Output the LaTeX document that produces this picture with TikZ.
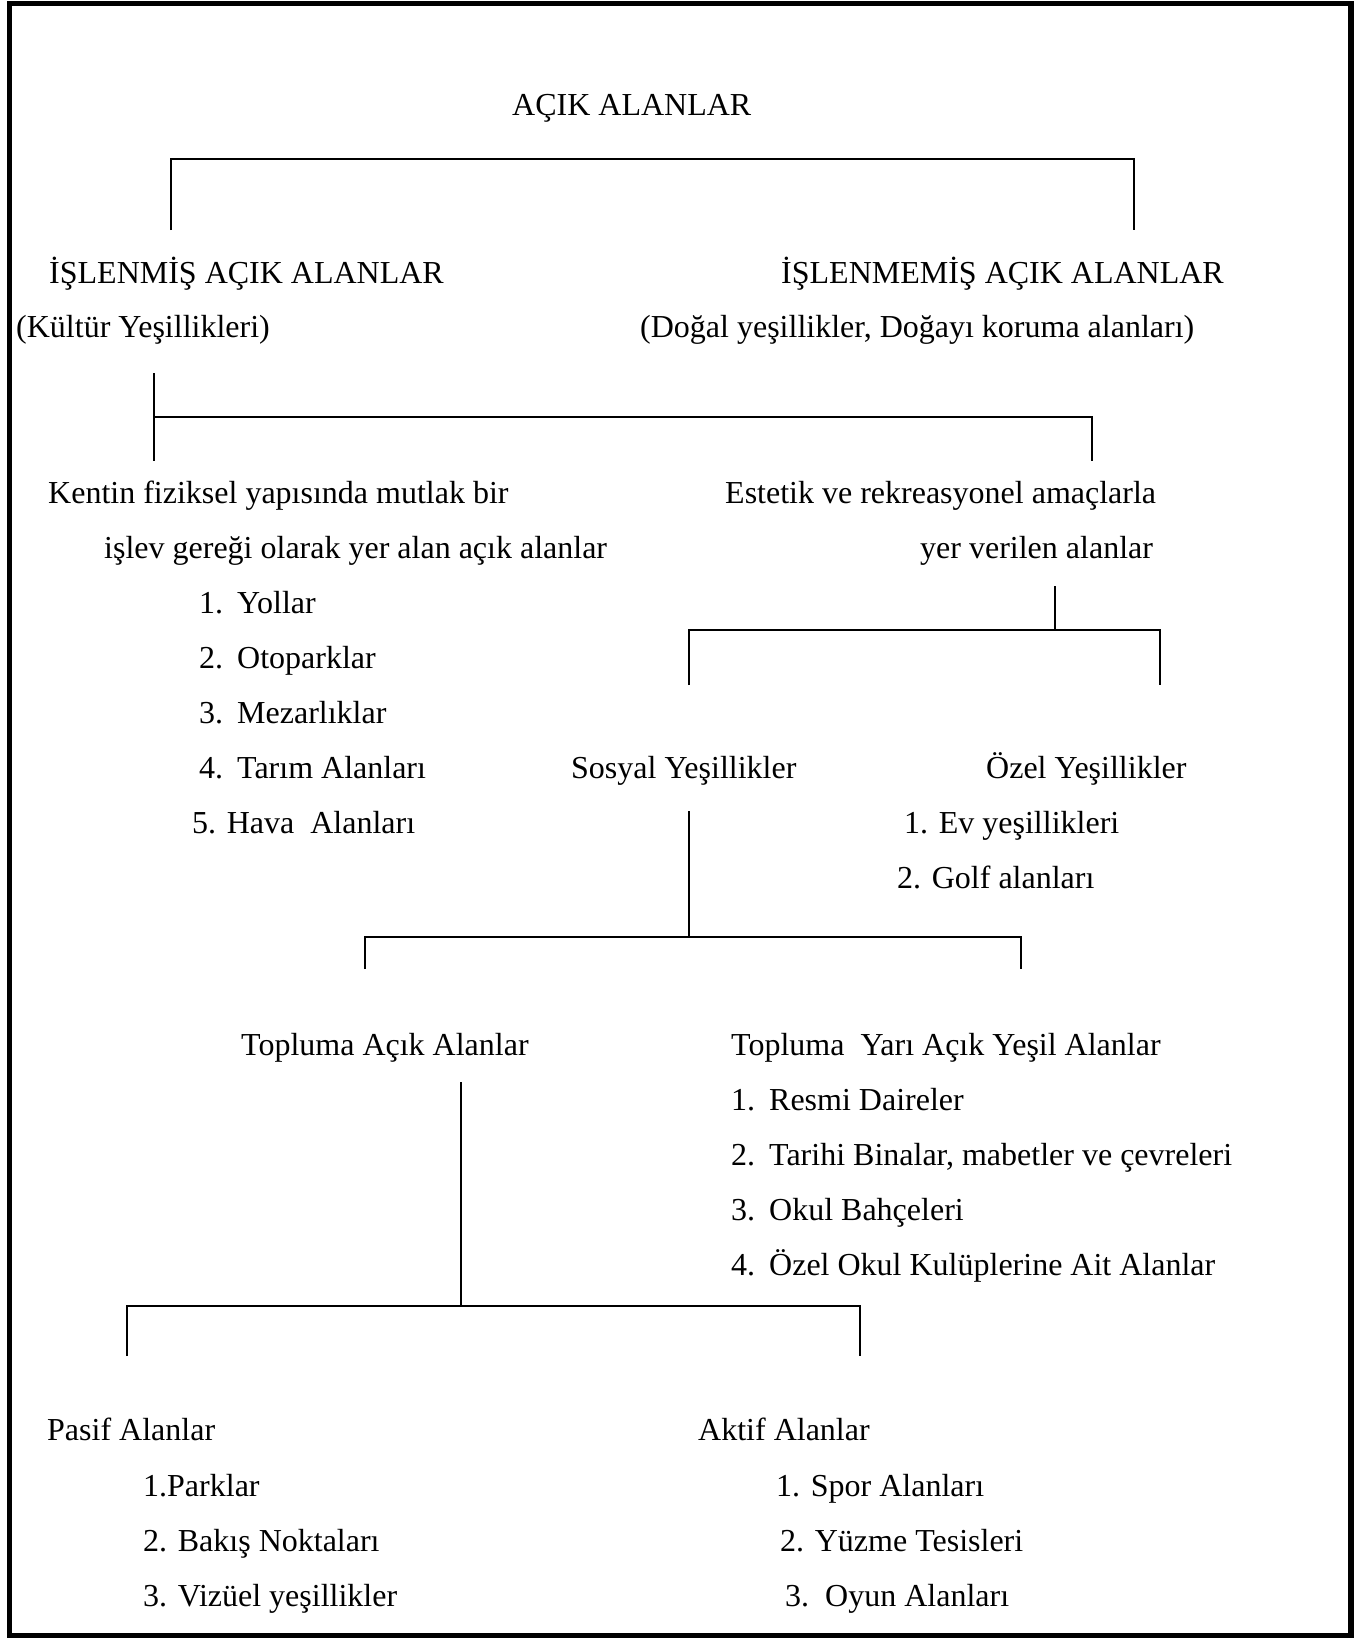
\documentclass[tikz,border=0pt]{standalone}
\usepackage{fontspec}
\setmainfont{Liberation Serif}
\newcommand{\listno}[2]{#1\hspace{14pt}#2}
\begin{document}
\begin{tikzpicture}[x=1pt,y=-1pt,
            txt/.style={anchor=base west,inner sep=0pt,font=\fontsize{32}{38}\selectfont},
            branch/.style={line width=2pt}]
            \useasboundingbox (0,0) rectangle (1357,1638);
            \draw[line width=5.5pt] (9.5,3.5) rectangle (1351,1635.5);
            \node[txt] (acik) at (512,115) {AÇIK ALANLAR};
            \node[txt] (islenmis) at (49,283) {İŞLENMİŞ AÇIK ALANLAR};
            \node[txt] (kultur) at (16,337) {(Kültür Yeşillikleri)};
            \node[txt] (islenmemis) at (781,283) {İŞLENMEMİŞ AÇIK ALANLAR};
            \node[txt] (dogal) at (640,337) {(Doğal yeşillikler, Doğayı koruma alanları)};
            \node[txt] (kentin) at (48,503) {Kentin fiziksel yapısında mutlak bir};
            \node[txt] (islev) at (104,558) {işlev gereği olarak yer alan açık alanlar};
            \node[txt] (yollar) at (199,613) {\listno{1.}{Yollar}};
            \node[txt] (otopark) at (199,668) {\listno{2.}{Otoparklar}};
            \node[txt] (mezar) at (199,723) {\listno{3.}{Mezarlıklar}};
            \node[txt] (tarim) at (199,778) {\listno{4.}{Tarım Alanları}};
            \node[txt] (hava) at (192,833) {5. Hava~~Alanları};
            \node[txt] (estetik) at (725,503) {Estetik ve rekreasyonel amaçlarla};
            \node[txt] (yer) at (920,558) {yer verilen alanlar};
            \node[txt] (sosyal) at (571,778) {Sosyal Yeşillikler};
            \node[txt] (ozel) at (986,778) {Özel Yeşillikler};
            \node[txt] (ev) at (904,833) {1. Ev yeşillikleri};
            \node[txt] (golf) at (897,888) {2. Golf alanları};
            \node[txt] (topluma) at (241,1055) {Topluma Açık Alanlar};
            \node[txt] (yari) at (731,1055) {Topluma~~Yarı Açık Yeşil Alanlar};
            \node[txt] (resmi) at (731,1110) {\listno{1.}{Resmi Daireler}};
            \node[txt] (tarihi) at (731,1165) {\listno{2.}{Tarihi Binalar, mabetler ve çevreleri}};
            \node[txt] (okul) at (731,1220) {\listno{3.}{Okul Bahçeleri}};
            \node[txt] (kulup) at (731,1275) {\listno{4.}{Özel Okul Kulüplerine Ait Alanlar}};
            \node[txt] (pasif) at (47,1440) {Pasif Alanlar};
            \node[txt] (parklar) at (143,1496) {1.Parklar};
            \node[txt] (bakis) at (143,1551) {2. Bakış Noktaları};
            \node[txt] (vizuel) at (143,1606) {3. Vizüel yeşillikler};
            \node[txt] (aktif) at (698,1440) {Aktif Alanlar};
            \node[txt] (spor) at (776,1496) {1. Spor Alanları};
            \node[txt] (yuzme) at (780,1551) {2. Yüzme Tesisleri};
            \node[txt] (oyun) at (785,1606) {3.~~Oyun Alanları};
            \coordinate (acik bar) at (650,159);
            \coordinate (islenmis top) at (171,230);
            \coordinate (islenmemis top) at (1134,230);
            \coordinate (kultur stem) at (154,373);
            \coordinate (kultur bar) at (623,417);
            \coordinate (kentin top) at (154,461);
            \coordinate (estetik top) at (1092,461);
            \coordinate (yer stem) at (1055,586);
            \coordinate (yer bar) at (1055,630);
            \coordinate (sosyal top) at (689,685);
            \coordinate (ozel top) at (1160,685);
            \coordinate (sosyal stem) at (689,811);
            \coordinate (sosyal bar) at (689,937);
            \coordinate (topluma top) at (365,969);
            \coordinate (yari top) at (1021,969);
            \coordinate (topluma stem) at (461,1082);
            \coordinate (topluma bar) at (461,1306);
            \coordinate (pasif top) at (127,1356);
            \coordinate (aktif top) at (860,1356);
            \draw[branch] (islenmis top) |- (acik bar) -| (islenmemis top);
            \draw[branch] (kultur stem) -- (kentin top);
            \draw[branch] (kentin top |- kultur bar) -| (estetik top);
            \draw[branch] (yer stem) -- (yer bar);
            \draw[branch] (sosyal top) |- (yer bar) -| (ozel top);
            \draw[branch] (sosyal stem) -- (sosyal bar);
            \draw[branch] (topluma top) |- (sosyal bar) -| (yari top);
            \draw[branch] (topluma stem) -- (topluma bar);
            \draw[branch] (pasif top) |- (topluma bar) -| (aktif top);
\end{tikzpicture}
\end{document}
